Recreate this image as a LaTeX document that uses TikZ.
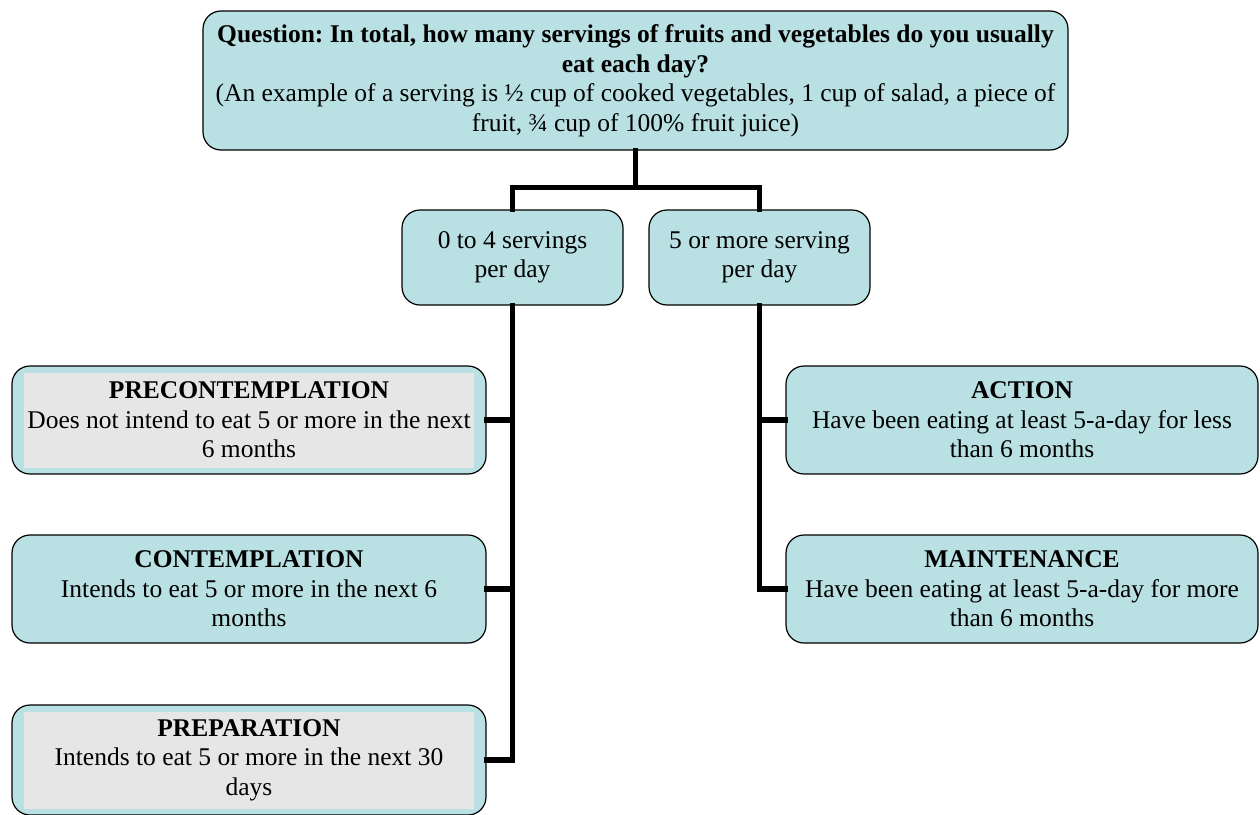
\documentclass[tikz,border=0pt]{standalone}
\usepackage{fontspec}
\setmainfont{Liberation Serif}
\frenchspacing
\definecolor{cyanfill}{RGB}{185,224,227}
\definecolor{grayfill}{RGB}{230,230,230}
\begin{document}
\begin{tikzpicture}[x=1pt,y=-1pt,
  box/.style={draw=black,line width=1.2pt,fill=cyanfill,rounded corners=18pt,align=center,inner sep=0pt,
    font=\fontsize{25.5}{29.5}\selectfont},
  graybox/.style={box,path picture={\fill[grayfill,sharp corners] ([shift={(12pt,-7pt)}]path picture bounding box.north west) rectangle ([shift={(-12pt,6pt)}]path picture bounding box.south east);}},
  conn/.style={line width=5.5pt,line join=miter,line cap=rect}]
\useasboundingbox (0,0) rectangle (1260,814);
\node[box,minimum width=865pt,minimum height=139pt] (top) at (635.5,80.5)
  {\textbf{Question: In total, how many servings of fruits and vegetables do you usually}\\
   \textbf{eat each day?}\\
   (An example of a serving is ½ cup of cooked vegetables, 1 cup of salad, a piece of\\
   fruit, ¾ cup of 100\% fruit juice)};
\node[box,minimum width=221pt,minimum height=95pt] (n04) at (512.5,257.5) {0 to 4 servings\\per day};
\node[box,minimum width=221pt,minimum height=95pt] (n5) at (759.5,257.5) {5 or more serving\\per day\vphantom{g}};
\node[graybox,minimum width=474pt,minimum height=108pt] (pre) at (249,420)
  {\textbf{PRECONTEMPLATION}\\Does not intend to eat 5 or more in the next\\6 months};
\node[box,minimum width=474pt,minimum height=108pt] (con) at (249,589)
  {\textbf{CONTEMPLATION}\\Intends to eat 5 or more in the next 6\\months};
\node[graybox,minimum width=474pt,minimum height=110pt] (prep) at (249,760)
  {\textbf{PREPARATION}\\Intends to eat 5 or more in the next 30\\days};
\node[box,minimum width=472pt,minimum height=108pt] (act) at (1022,420)
  {\textbf{ACTION}\\Have been eating at least 5-a-day for less\\than 6 months};
\node[box,minimum width=472pt,minimum height=108pt] (main) at (1022,589)
  {\textbf{MAINTENANCE}\\Have been eating at least 5-a-day for more\\than 6 months};
\coordinate (split) at ([yshift=-37pt]top.south);
\draw[conn] (top.south) -- (split);
\draw[conn] (n04.north) |- (split) -| (n5.north);
\draw[conn] (n04.south) |- (prep.east);
\draw[conn] (n04.south |- pre.east) -- (pre.east);
\draw[conn] (n04.south |- con.east) -- (con.east);
\draw[conn] (n5.south) |- (main.west);
\draw[conn] (n5.south |- act.west) -- (act.west);
\end{tikzpicture}
\end{document}
